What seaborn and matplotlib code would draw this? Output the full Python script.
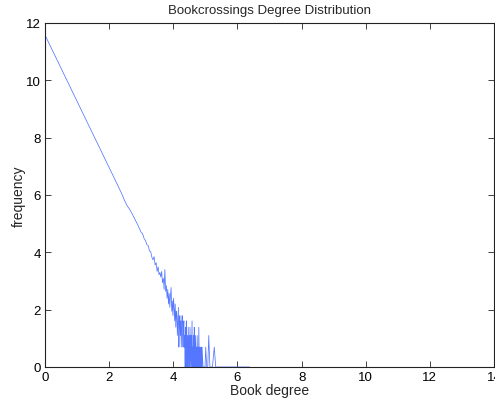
import matplotlib
matplotlib.use("Agg")
import matplotlib.pyplot as plt
import seaborn as sns
import numpy as np

# degree of a book (number of ratings) and how many books have that degree
book_degree = list(range(1, 111)) + [
    112, 113, 114, 115, 117, 118, 120, 121, 123, 124, 126, 127, 129, 131,
    133, 134, 138, 142, 147, 150, 155, 160, 165, 171, 178, 185, 196, 205,
    221, 240, 262, 290, 330, 390, 470, 590,
]
book_count = [
    107000, 21600, 8450, 4370, 2590, 1700, 1190, 875, 665, 522,
    416, 330, 276, 245, 213, 185, 161, 143, 125, 110,
    104, 88, 82, 71, 69, 57, 56, 46, 42, 47,
    35, 38, 28, 33, 25, 27, 23, 28, 19, 22,
    15, 30, 14, 17, 11, 15, 9, 13, 8, 12,
    16, 7, 10, 6, 11, 8, 5, 9, 4, 7,
    6, 3, 5, 8, 2, 4, 6, 3, 5, 2,
    4, 6, 3, 2, 4, 5, 2, 3, 1, 4,
    2, 5, 1, 3, 2, 1, 4, 2, 1, 3,
    1, 4, 2, 1, 3, 1, 2, 5, 1, 2,
    1, 3, 2, 1, 4, 1, 2, 1, 3, 2,
    1, 2, 1, 3, 1, 2, 1, 4, 1, 2, 1, 2, 1, 2,
    1, 2, 1, 1, 1, 2, 1, 1, 3, 1, 1, 1, 2, 1,
    1, 1, 1, 1, 1, 1, 1, 1,
]

x_ticks = [0, 2, 4, 6, 8, 10, 12, 14]
y_ticks = [0, 2, 4, 6, 8, 10, 12]

log_degree = np.log(np.array(book_degree, dtype=float))
log_count = np.log(np.array(book_count, dtype=float))

sns.set_style("ticks")
plt.rcParams['font.family'] = ['Liberation Sans', 'DejaVu Sans']

fig = plt.figure(figsize=(4.95, 4.02), dpi=100)
ax = fig.add_axes([0.0909, 0.0846, 0.9071, 0.8557])

sns.lineplot(x=log_degree, y=log_count, ax=ax, estimator=None, sort=False,
             color='#5577ff', linewidth=0.55)

ax.set_xlim(0, 14)
ax.set_ylim(0, 12)
ax.set_xticks(x_ticks)
ax.set_yticks(y_ticks)
for side in ['top', 'right', 'left', 'bottom']:
    ax.spines[side].set_visible(True)
    ax.spines[side].set_linewidth(0.8)
    ax.spines[side].set_color('#222222')
ax.tick_params(direction='in', length=4, width=0.6, top=True, right=True,
               labelsize=9.5, pad=3, colors='#222222')
ax.tick_params(labelcolor='black')

ax.set_title('Bookcrossings Degree Distribution', fontsize=9.5, pad=7)
ax.set_xlabel('Book degree', fontsize=10, labelpad=0)
ax.set_ylabel('frequency', fontsize=10, labelpad=0)

fig.savefig('out.png', dpi=100)
